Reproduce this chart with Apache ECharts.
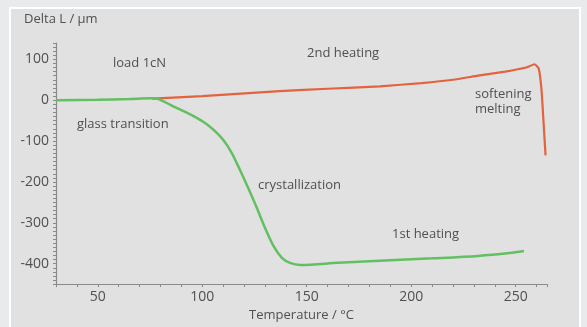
<!DOCTYPE html>
<html><head><meta charset="utf-8">
<script src="https://cdn.jsdelivr.net/npm/echarts@6/dist/echarts.min.js"></script>
<style>html,body{margin:0;padding:0;background:#e9eaec;}#c{width:587px;height:327px;}</style>
</head><body><div id="c"></div>
<script>
// 1st heating (green): [temperature °C, Delta L µm]
const firstHeating = [
  [30,0],[50,1],[65,3],[75,5],[79,3],[85,-12],[94,-34],[98,-45],[102,-58],
  [106,-75],[110,-97],[114,-128],[118,-170],[122,-215],[126,-262],[130,-312],
  [134,-356],[138,-385],[142,-398],[147,-403],[165,-398],[185,-393],[210,-387],
  [232,-381],[247,-374],[254,-369]
];
// 2nd heating (red)
const secondHeating = [
  [76,4],[100,10],[137,22],[160,28],[185,34],[205,42],[220,50],[232,60],
  [245,70],[255,80],[259,88],[261,78],[262.3,30],[263.3,-50],[264.3,-135]
];
const xLabels = [50,100,150,200,250];
const yLabels = [-400,-300,-200,-100,0,100];
const notes = [
  {text:'load 1cN', x:113, y:63},
  {text:'2nd heating', x:307, y:53},
  {text:'glass transition', x:77, y:124},
  {text:'crystallization', x:258, y:185},
  {text:'1st heating', x:392, y:234},
  {text:'softening\nmelting', x:475, y:102}
];
const FONT = '"Open Sans", "Noto Sans", sans-serif';
const TXT = '#505050';
const chart = echarts.init(document.getElementById('c'));
chart.setOption({
  backgroundColor: '#e9eaec',
  animation: false,
  graphic: [
    {type:'rect', shape:{x:10,y:8,width:570,height:330}, style:{fill:'#e1e1e1', stroke:'#ffffff', lineWidth:2}, z:-10},
    {type:'text', left:24, top:13, style:{text:'Delta L / µm', fill:TXT, font:'13px '+FONT}},
  ].concat(notes.map(n => ({type:'text', x:n.x, y:n.y, style:{text:n.text, fill:TXT, font:'13px '+FONT, verticalAlign:'middle', lineHeight:15}}))),
  grid: {left:56, right:40, top:43, bottom:39},
  xAxis: {
    type:'value', min:30, max:265, interval:10,
    name:'Temperature / °C', nameLocation:'middle', nameGap:24,
    nameTextStyle:{color:TXT, fontSize:13, fontFamily:FONT},
    axisLine:{onZero:false, lineStyle:{color:'#8a8a8a', width:1.2}},
    axisTick:{show:true, length:3, lineStyle:{color:'#8a8a8a'}},
    axisLabel:{color:TXT, fontSize:14, fontFamily:FONT, margin:6,
      formatter: v => xLabels.includes(v) ? String(v) : ''},
    splitLine:{show:false}
  },
  yAxis: {
    type:'value', min:-450, max:140, interval:10,
    axisLine:{show:true, onZero:false, lineStyle:{color:'#8a8a8a', width:1.2}},
    axisTick:{show:true, length:3, lineStyle:{color:'#8a8a8a'}},
    axisLabel:{color:TXT, fontSize:14, fontFamily:FONT, margin:7,
      formatter: v => yLabels.includes(v) ? String(v) : ''},
    splitLine:{show:false}
  },
  series: [
    {type:'line', data:firstHeating, showSymbol:false, smooth:0.3,
      lineStyle:{color:'#62bf62', width:2.5}, z:3},
    {type:'line', data:secondHeating, showSymbol:false, smooth:0.15,
      lineStyle:{color:'#e2633f', width:2.2}, z:2}
  ]
});
</script></body></html>
